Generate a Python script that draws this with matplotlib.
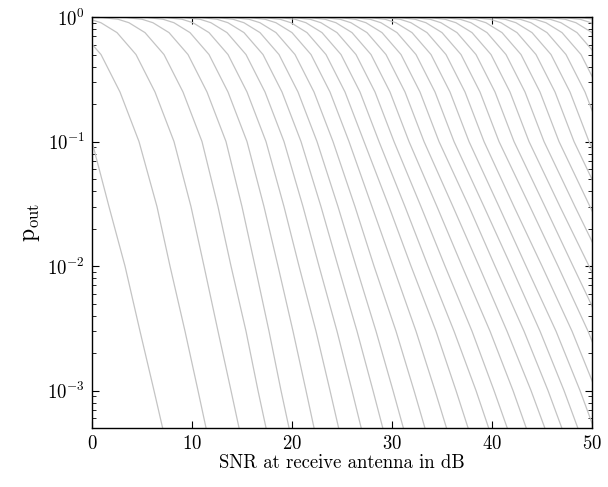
import matplotlib
matplotlib.use("Agg")
import matplotlib.pyplot as plt
from matplotlib.ticker import LogLocator, NullFormatter, FixedLocator

plt.rcParams["font.family"] = "cmr10"
plt.rcParams["mathtext.fontset"] = "cm"
plt.rcParams["axes.formatter.use_mathtext"] = True

# outage probability levels, and the SNR (dB) where each curve crosses them
p_levels = [0.9995, 0.998, 0.99, 0.96, 0.9, 0.75, 0.5, 0.25, 0.1, 0.03, 0.01, 3e-3, 1e-3, 3e-4]

snr_db = [
    [-12.8, -11.8, -10.0, -8.4, -7.3, -5.7, -3.8, -1.9, 0.0, 1.7, 3.3, 4.8, 6.2, 7.7],
    [-8.1, -7.1, -5.3, -3.7, -2.6, -1.0, 0.9, 2.8, 4.7, 6.5, 7.8, 9.3, 10.6, 12.0],
    [-4.6, -3.6, -1.8, -0.2, 0.9, 2.5, 4.4, 6.3, 8.2, 9.9, 11.2, 12.6, 13.9, 15.3],
    [-1.8, -0.8, 1.0, 2.6, 3.7, 5.3, 7.2, 9.1, 11.0, 12.6, 13.9, 15.4, 16.6, 18.0],
    [0.6, 1.6, 3.4, 5.0, 6.1, 7.7, 9.6, 11.5, 13.4, 15.0, 16.3, 17.7, 18.9, 20.3],
    [2.7, 3.7, 5.5, 7.1, 8.2, 9.8, 11.7, 13.6, 15.5, 17.2, 18.6, 20.1, 21.4, 22.8],
    [4.6, 5.6, 7.4, 9.0, 10.1, 11.7, 13.6, 15.5, 17.4, 19.2, 20.7, 22.4, 23.8, 25.3],
    [6.4, 7.4, 9.2, 10.8, 11.9, 13.5, 15.4, 17.3, 19.2, 21.1, 22.7, 24.5, 26.0, 27.6],
    [8.1, 9.1, 10.9, 12.5, 13.6, 15.2, 17.1, 19.0, 20.9, 22.9, 24.6, 26.5, 28.1, 29.8],
    [9.7, 10.7, 12.5, 14.1, 15.2, 16.8, 18.7, 20.6, 22.5, 24.6, 26.4, 28.4, 30.1, 31.9],
    [11.3, 12.3, 14.1, 15.7, 16.8, 18.4, 20.3, 22.2, 24.1, 26.3, 28.2, 30.4, 32.2, 34.1],
    [12.9, 13.9, 15.7, 17.3, 18.4, 20.0, 21.9, 23.8, 25.7, 28.0, 30.1, 32.4, 34.3, 36.3],
    [14.4, 15.4, 17.2, 18.8, 19.9, 21.5, 23.4, 25.3, 27.2, 29.7, 31.9, 34.4, 36.4, 38.5],
    [15.9, 16.9, 18.7, 20.3, 21.4, 23.0, 24.9, 26.8, 28.7, 31.3, 33.6, 36.2, 38.4, 40.6],
    [17.4, 18.4, 20.2, 21.8, 22.9, 24.5, 26.4, 28.3, 30.2, 32.9, 35.3, 38.0, 40.2, 42.5],
    [18.9, 19.9, 21.7, 23.3, 24.4, 26.0, 27.9, 29.8, 31.7, 34.5, 37.0, 39.8, 42.1, 44.4],
    [20.4, 21.4, 23.2, 24.8, 25.9, 27.5, 29.4, 31.3, 33.2, 36.1, 38.7, 41.5, 43.9, 46.3],
    [21.9, 22.9, 24.7, 26.3, 27.4, 29.0, 30.9, 32.8, 34.7, 37.7, 40.3, 43.2, 45.6, 48.0],
    [23.4, 24.4, 26.2, 27.8, 28.9, 30.5, 32.4, 34.3, 36.2, 39.2, 41.9, 44.8, 47.2, 49.6],
    [24.9, 25.9, 27.7, 29.3, 30.4, 32.0, 33.9, 35.8, 37.7, 40.7, 43.4, 46.4, 48.8, 51.2],
    [26.4, 27.4, 29.2, 30.8, 31.9, 33.5, 35.4, 37.3, 39.2, 42.2, 45.0, 48.0, 50.4, 52.8],
    [27.9, 28.9, 30.7, 32.3, 33.4, 35.0, 36.9, 38.8, 40.7, 43.8, 46.6, 49.6, 52.0, 54.4],
    [29.4, 30.4, 32.2, 33.8, 34.9, 36.5, 38.4, 40.3, 42.2, 45.3, 48.1, 51.2, 53.6, 56.0],
    [30.9, 31.9, 33.7, 35.3, 36.4, 38.0, 39.9, 41.8, 43.7, 46.8, 49.7, 52.8, 55.2, 57.6],
    [32.4, 33.4, 35.2, 36.8, 37.9, 39.5, 41.4, 43.3, 45.2, 48.3, 51.2, 54.3, 56.8, 59.2],
    [33.9, 34.9, 36.7, 38.3, 39.4, 41.0, 42.9, 44.8, 46.7, 49.8, 52.7, 55.8, 58.3, 60.7],
    [35.4, 36.4, 38.2, 39.8, 40.9, 42.5, 44.4, 46.3, 48.2, 51.3, 54.2, 57.3, 59.8, 62.2],
    [36.9, 37.9, 39.7, 41.3, 42.4, 44.0, 45.9, 47.8, 49.7, 52.8, 55.7, 58.8, 61.3, 63.7],
    [38.4, 39.4, 41.2, 42.8, 43.9, 45.5, 47.4, 49.3, 51.2, 54.3, 57.2, 60.3, 62.8, 65.2],
    [39.9, 40.9, 42.7, 44.3, 45.4, 47.0, 48.9, 50.8, 52.7, 55.8, 58.7, 61.8, 64.3, 66.7],
    [41.4, 42.4, 44.2, 45.8, 46.9, 48.5, 50.4, 52.3, 54.2, 57.3, 60.2, 63.3, 65.8, 68.2],
    [42.9, 43.9, 45.7, 47.3, 48.4, 50.0, 51.9, 53.8, 55.7, 58.8, 61.7, 64.8, 67.3, 69.7],
    [44.4, 45.4, 47.2, 48.8, 49.9, 51.5, 53.4, 55.3, 57.2, 60.3, 63.2, 66.3, 68.8, 71.2],
    [45.9, 46.9, 48.7, 50.3, 51.4, 53.0, 54.9, 56.8, 58.7, 61.8, 64.7, 67.8, 70.3, 72.7],
    [47.4, 48.4, 50.2, 51.8, 52.9, 54.5, 56.4, 58.3, 60.2, 63.3, 66.2, 69.3, 71.8, 74.2],
]

x_ticks = [0, 10, 20, 30, 40, 50]

fig = plt.figure(figsize=(6.08, 4.87), dpi=100)
ax = fig.add_axes([0.1513, 0.1211, 0.8224, 0.8439])

for row in snr_db:
    ax.plot(row, p_levels, color="#c4c4c4", lw=0.9, solid_joinstyle="miter")

ax.set_yscale("log")
ax.set_xlim(0, 50)
ax.set_ylim(5e-4, 1)
ax.xaxis.set_major_locator(FixedLocator(x_ticks))
ax.yaxis.set_major_locator(LogLocator(base=10, numticks=10))
ax.yaxis.set_minor_locator(LogLocator(base=10, subs=range(2, 10), numticks=20))
ax.yaxis.set_minor_formatter(NullFormatter())

ax.tick_params(which="both", direction="in", top=True, right=True, labelsize=13.5)
ax.tick_params(which="major", length=5, width=0.8, pad=5)
ax.tick_params(which="minor", length=3, width=0.6)
for s in ax.spines.values():
    s.set_linewidth(1.0)

ax.set_xlabel("SNR at receive antenna in dB", fontsize=13.5, labelpad=1)
ax.set_ylabel(r"$\mathrm{p}_{\mathrm{out}}$", fontsize=17, labelpad=4)

fig.savefig("out.png", dpi=100)
